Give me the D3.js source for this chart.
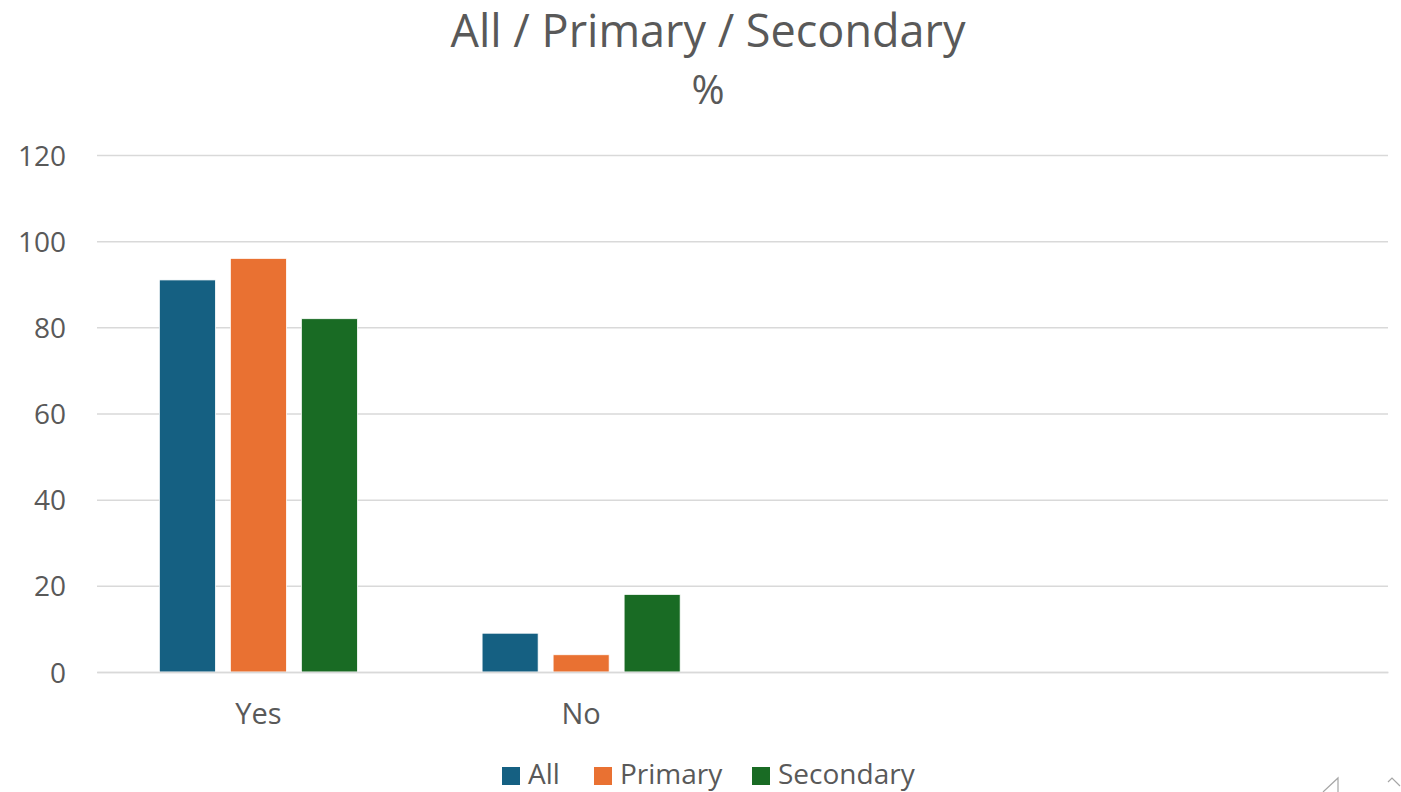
<!DOCTYPE html>
<html><head><meta charset="utf-8">
<script src="https://cdn.jsdelivr.net/npm/d3@7"></script>
<style>body{margin:0;background:#fff}svg{display:block}text{font-family:"Open Sans","Noto Sans",sans-serif;fill:#595959}</style>
</head><body>
<svg id="c" width="1401" height="792"></svg>
<script>
const categories = ["Yes", "No", "", ""];
const seriesNames = ["All", "Primary", "Secondary"];
const allValues = [91, 9];
const primaryValues = [96, 4];
const secondaryValues = [82, 18];
const yTicks = [0, 20, 40, 60, 80, 100, 120];
const colors = ["#156082", "#E97132", "#196B24"];

const seriesValues = [allValues, primaryValues, secondaryValues];
const svg = d3.select("#c");
const W = 1401, H = 792;
const m = {left: 97, right: 13, top: 155, bottom: 120};
const x0 = d3.scaleBand().domain(categories.map((d, i) => i)).range([m.left, W - m.right]).padding(0);
const x1 = d3.scaleBand().domain(seriesNames).range([0, x0.bandwidth()]).paddingInner(0.211).paddingOuter(0.878);
const y = d3.scaleLinear().domain([0, 120]).range([H - m.bottom, m.top]);

// gridlines
const yAxis = d3.axisLeft(y).tickValues(yTicks).tickSize(-(W - m.left - m.right));
const gy = svg.append("g").attr("transform", `translate(${m.left},0)`).call(yAxis);
gy.select(".domain").remove();
gy.selectAll(".tick line").attr("stroke", "#d9d9d9").attr("stroke-width", 1.5);
gy.selectAll(".tick text").attr("font-size", 28).attr("fill", "#595959").attr("x", -31).attr("dy", "0.36em");

// bars
seriesNames.forEach((s, si) => {
  svg.append("g").selectAll("rect").data(seriesValues[si]).join("rect")
    .attr("x", (d, i) => x0(i) + x1(s))
    .attr("width", x1.bandwidth())
    .attr("y", d => y(d))
    .attr("height", d => y(0) - y(d))
    .attr("fill", colors[si])
    .attr("stroke", "#fff").attr("stroke-width", 0.75);
});

// x axis
const xAxis = d3.axisBottom(x0).tickFormat(i => categories[i]).tickSize(0);
const gx = svg.append("g").attr("transform", `translate(0,${y(0)})`).call(xAxis);
gx.select(".domain").attr("stroke", "#d9d9d9").attr("stroke-width", 1.5);
gx.selectAll(".tick text").attr("font-size", 29).attr("fill", "#595959").attr("dy", 0).attr("y", 52);

// titles
svg.append("text").attr("x", 708).attr("y", 47).attr("text-anchor", "middle").attr("font-size", 45).text("All / Primary / Secondary");
svg.append("text").attr("x", 708).attr("y", 104).attr("text-anchor", "middle").attr("font-size", 40).text("%");

// legend
const legX = [502, 594, 752];
const lg = svg.append("g");
seriesNames.forEach((s, i) => {
  lg.append("rect").attr("x", legX[i]).attr("y", 767).attr("width", 18).attr("height", 18).attr("fill", colors[i]);
  lg.append("text").attr("x", legX[i] + 26).attr("y", 784).attr("font-size", 28).text(s);
});

// corner handles
svg.append("path").attr("d", "M1323,792 L1338,778 L1338,792").attr("fill", "none").attr("stroke", "#a6a6a6").attr("stroke-width", 1.2);
svg.append("path").attr("d", "M1388,782 L1392,778 L1400,786").attr("fill", "none").attr("stroke", "#a6a6a6").attr("stroke-width", 1.2);
</script>
</body></html>
